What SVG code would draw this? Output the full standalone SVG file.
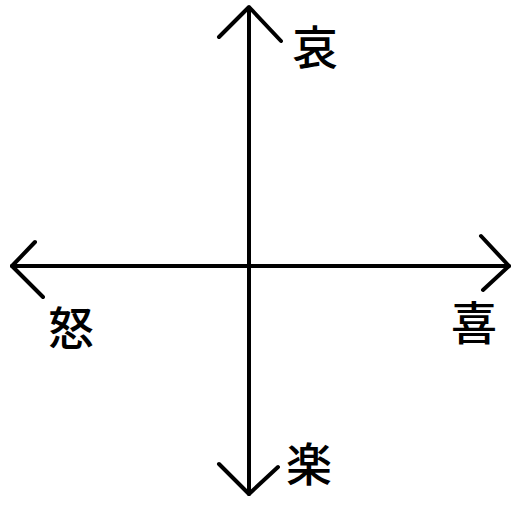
<svg xmlns="http://www.w3.org/2000/svg" width="512" height="512" viewBox="0 0 512 512">
<style>
.ax{fill:none;stroke:#000;stroke-width:4;stroke-linecap:round;stroke-linejoin:round}
.lb{font-family:"Noto Sans CJK JP","Noto Sans CJK SC",sans-serif;font-size:46px;font-weight:500;fill:#000;text-anchor:middle;dominant-baseline:central}
</style>
<rect width="512" height="512" fill="#fff"/>
<g id="connectors">
<path class="ax" d="M249 8 V494"/>
<path class="ax" d="M12 266 H509"/>
<path class="ax" d="M219 37 L249 7 L281 41"/>
<path class="ax" d="M219 464 L249 494 L278 467"/>
<path class="ax" d="M35 242 L12 266 L43 297"/>
<path class="ax" d="M481 236 L509 266 L483 290"/>
</g>
<g id="n-ai"><text class="lb" x="315" y="44">哀</text></g>
<g id="n-do"><text class="lb" x="71" y="325">怒</text></g>
<g id="n-ki"><text class="lb" x="474" y="320">喜</text></g>
<g id="n-raku"><text class="lb" x="309" y="461">楽</text></g>
</svg>
